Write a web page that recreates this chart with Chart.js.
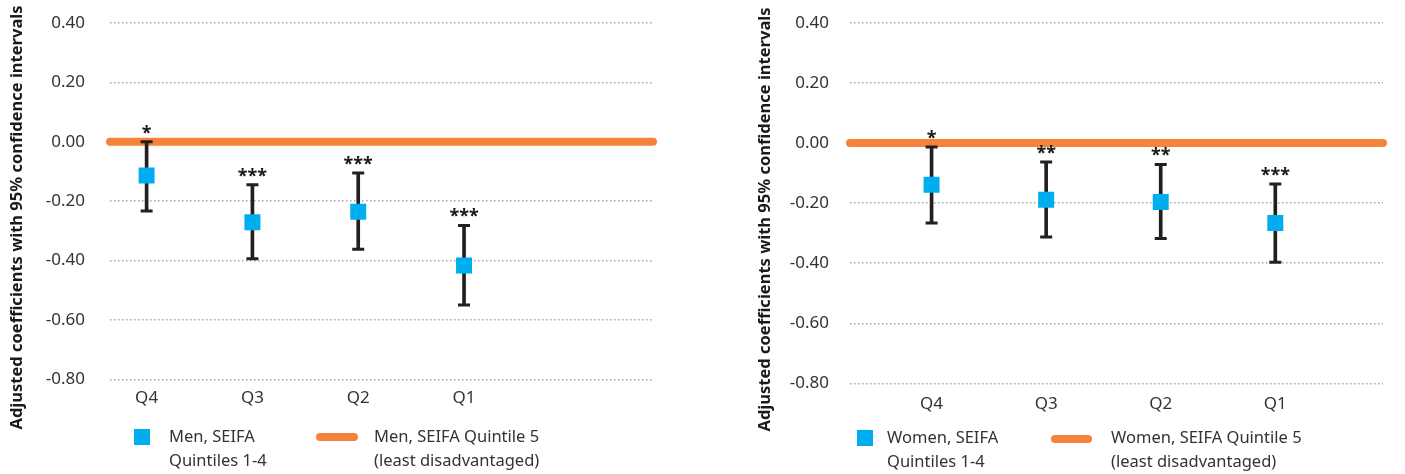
<!DOCTYPE html>
<html>
<head>
<meta charset="utf-8">
<script src="https://cdn.jsdelivr.net/npm/chart.js@4.4.1/dist/chart.umd.min.js"></script>
<style>
  html, body { margin: 0; padding: 0; background: #ffffff; width: 1405px; height: 474px; overflow: hidden; }
  .panel { position: absolute; top: 0; height: 474px; }
  .lg { position: absolute; font-family: "Noto Sans", sans-serif; font-size: 16.5px; line-height: 24px; color: #333333; white-space: nowrap; }
  .sq { position: absolute; width: 16px; height: 16px; background: #00AEEF; }
  .ln { position: absolute; height: 8px; border-radius: 4px; background: #F5833C; }
</style>
</head>
<body>
<div class="panel" style="left:0;width:700px;"><canvas id="men" width="700" height="474"></canvas></div>
<div class="panel" style="left:700px;width:705px;"><canvas id="women" width="705" height="474"></canvas></div>

<div class="sq" style="left:134px;top:429px;"></div>
<div class="lg" style="left:169px;top:424px;">Men, SEIFA<br>Quintiles 1-4</div>
<div class="ln" style="left:316px;top:433px;width:42px;"></div>
<div class="lg" style="left:374px;top:424px;">Men, SEIFA Quintile 5<br>(least disadvantaged)</div>

<div class="sq" style="left:857px;top:430px;"></div>
<div class="lg" style="left:887px;top:425px;">Women, SEIFA<br>Quintiles 1-4</div>
<div class="ln" style="left:1051px;top:435px;width:41px;"></div>
<div class="lg" style="left:1111px;top:425px;">Women, SEIFA Quintile 5<br>(least disadvantaged)</div>

<script>
// ---- Data ----
const categories = ['Q4', 'Q3', 'Q2', 'Q1'];

const menCoef  = [-0.114, -0.271, -0.236, -0.417];
const menLower = [-0.233, -0.394, -0.362, -0.550];
const menUpper = [ 0.000, -0.145, -0.105, -0.282];
const menSig   = ['*', '***', '***', '***'];

const womenCoef  = [-0.139, -0.189, -0.196, -0.266];
const womenLower = [-0.266, -0.313, -0.318, -0.397];
const womenUpper = [-0.013, -0.063, -0.071, -0.136];
const womenSig   = ['*', '**', '**', '***'];

const quintile5Ref = [0];

const yAxisTitle = 'Adjusted coefficients with 95% confidence intervals';
const yMin = -0.8, yMax = 0.4, yStep = 0.2;

// ---- Styles ----
const BLUE = '#00AEEF';
const ORANGE = '#F5833C';
const BAR = '#231F20';
const FONT = '"Noto Sans", sans-serif';

Chart.defaults.font.family = FONT;

function makeChart(id, cfg) {
  const idx = categories.map((c, i) => i + 1);

  const sigPlugin = {
    id: 'sig_' + id,
    afterDatasetsDraw(chart) {
      const ctx = chart.ctx, xs = chart.scales.x, ys = chart.scales.y;
      ctx.save();
      ctx.font = 'bold 18px ' + FONT;
      ctx.fillStyle = '#1a1a1a';
      ctx.textAlign = 'center';
      ctx.textBaseline = 'alphabetic';
      cfg.sig.forEach((s, i) => {
        ctx.fillText(s, xs.getPixelForValue(idx[i]), ys.getPixelForValue(cfg.upper[i]) - 3);
      });
      ctx.restore();
    }
  };

  const titlePlugin = {
    id: 'ytitle_' + id,
    afterDraw(chart) {
      const ctx = chart.ctx;
      ctx.save();
      ctx.translate(cfg.titleX, cfg.titleY);
      ctx.rotate(-Math.PI / 2);
      ctx.font = 'bold 16.5px ' + FONT;
      ctx.fillStyle = '#1a1a1a';
      ctx.textAlign = 'center';
      ctx.textBaseline = 'middle';
      ctx.fillText(yAxisTitle, 0, 0);
      ctx.restore();
    }
  };

  return new Chart(document.getElementById(id), {
    type: 'scatter',
    data: {
      datasets: [
        {
          type: 'line',
          data: [{ x: cfg.xMin, y: quintile5Ref[0] }, { x: cfg.xMax, y: quintile5Ref[0] }],
          borderColor: ORANGE,
          borderWidth: 8,
          borderCapStyle: 'round',
          pointRadius: 0,
          clip: false,
          order: 10
        },
        {
          type: 'bar',
          data: idx.map((x, i) => ({ x: x, y: [cfg.lower[i], cfg.upper[i]] })),
          backgroundColor: BAR,
          barThickness: 3,
          borderWidth: 0,
          order: 3
        },
        {
          type: 'scatter',
          data: idx.flatMap((x, i) => [{ x: x, y: cfg.lower[i] }, { x: x, y: cfg.upper[i] }]),
          pointStyle: 'line',
          pointRadius: 6,
          borderColor: BAR,
          pointBorderWidth: 3,
          borderWidth: 3,
          order: 2
        },
        {
          type: 'scatter',
          data: idx.map((x, i) => ({ x: x, y: cfg.coef[i] })),
          pointStyle: 'rect',
          pointRadius: 11.3,
          backgroundColor: BLUE,
          borderWidth: 0,
          order: 0
        }
      ]
    },
    options: {
      responsive: false,
      animation: false,
      devicePixelRatio: 1,
      events: [],
      layout: { padding: { left: 0, right: cfg.padRight, top: cfg.padTop, bottom: 0 } },
      plugins: { legend: { display: false }, tooltip: { enabled: false } },
      scales: {
        x: {
          type: 'linear',
          min: cfg.xMin,
          max: cfg.xMax,
          offset: false,
          grid: { display: false, drawTicks: false },
          border: { display: false },
          afterBuildTicks(scale) { scale.ticks = idx.map(v => ({ value: v })); },
          afterFit(scale) {
            scale.height = cfg.xHeight;
            scale.paddingLeft = 0; scale.paddingRight = 0;
          },
          ticks: {
            autoSkip: false,
            maxRotation: 0,
            padding: cfg.xPad,
            color: '#333333',
            font: { size: 17 },
            callback: (v) => categories[Math.round(v) - 1] || ''
          }
        },
        y: {
          type: 'linear',
          min: yMin,
          max: yMax,
          afterFit(scale) {
            scale.width = cfg.yWidth;
            scale.paddingTop = 0; scale.paddingBottom = 0;
          },
          grid: {
            color: '#a6a6a6',
            lineWidth: 1.5,
            drawTicks: false
          },
          border: { display: false, dash: [1.5, 2.5] },
          ticks: {
            stepSize: yStep,
            padding: cfg.yPad,
            color: '#333333',
            font: { size: 17 },
            callback: (v) => (Math.abs(v) < 1e-9 ? 0 : v).toFixed(2)
          }
        }
      }
    },
    plugins: [sigPlugin, titlePlugin]
  });
}

makeChart('men', {
  coef: menCoef, lower: menLower, upper: menUpper, sig: menSig,
  xMin: 0.654, xMax: 5.786,
  padRight: 47, padTop: 23, xHeight: 94.7, yWidth: 110, yPad: 25, xPad: 9,
  titleX: 17, titleY: 217.5
});

makeChart('women', {
  coef: womenCoef, lower: womenLower, upper: womenUpper, sig: womenSig,
  xMin: 0.288, xMax: 4.94,
  padRight: 22, padTop: 23, xHeight: 90.7, yWidth: 150, yPad: 21, xPad: 11,
  titleX: 65, titleY: 219.5
});
</script>
</body>
</html>
